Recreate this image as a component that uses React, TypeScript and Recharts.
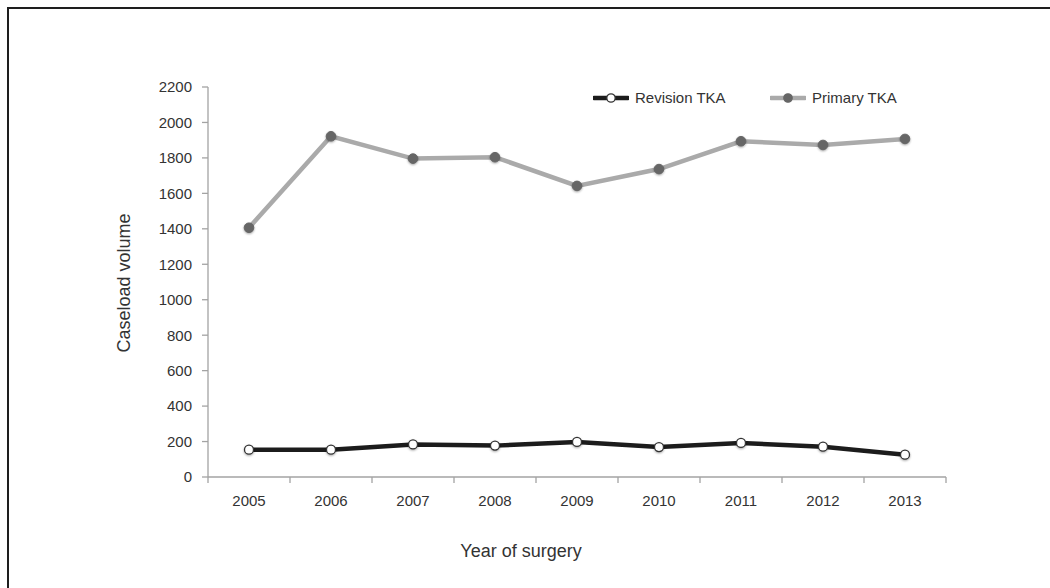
import React from 'react';
import { LineChart, Line, XAxis, YAxis, Label, Legend } from 'recharts';

const years = ['2005', '2006', '2007', '2008', '2009', '2010', '2011', '2012', '2013'];
const revisionTKA = [154, 154, 184, 177, 198, 169, 192, 171, 126];
const primaryTKA = [1406, 1922, 1796, 1804, 1642, 1737, 1894, 1873, 1907];
const yTicks = [0, 200, 400, 600, 800, 1000, 1200, 1400, 1600, 1800, 2000, 2200];
const seriesNames = ['Revision TKA', 'Primary TKA'];

const data = years.map((year, i) => ({
  pos: i + 0.5,
  year,
  revision: revisionTKA[i],
  primary: primaryTKA[i],
}));
const bandEdges = [...years.map((_, i) => i), years.length];

const FONT = "'Liberation Sans', Arial, Helvetica, sans-serif";
const W = 1050;
const H = 588;
const LEGEND_H = 20;
const MARGIN = { top: 87, right: 104, bottom: 31, left: 0 };
const Y_AXIS_W = 208;
const PLOT_W = W - MARGIN.left - MARGIN.right - Y_AXIS_W;
const HALF_BAND = PLOT_W / years.length / 2;
const AXIS_COLOR = '#a3a3a3';
const TEXT_COLOR = '#333';
const REV_COLOR = '#1c1c1c';
const PRI_COLOR = '#aaaaaa';
const PRI_DOT = '#666';

const XTick = (props: any) => {
  const { x, y, payload } = props;
  const i = payload.value;
  if (i >= years.length) return <g />;
  return (
    <text x={x + HALF_BAND} y={y} dy="0.71em" textAnchor="middle" fill={TEXT_COLOR} fontSize={15} fontFamily={FONT}>
      {years[i]}
    </text>
  );
};

const LegendContent = () => {
  const items = [
    { name: seriesNames[0], line: REV_COLOR, fill: '#fff', stroke: '#333', left: 0 },
    { name: seriesNames[1], line: PRI_COLOR, fill: PRI_DOT, stroke: PRI_DOT, left: 177 },
  ];
  return (
    <div style={{ position: 'relative', width: 320, height: LEGEND_H, fontFamily: FONT, fontSize: 15, color: TEXT_COLOR }}>
      {items.map((it) => (
        <div key={it.name} style={{ position: 'absolute', left: it.left, top: 0, display: 'flex', alignItems: 'center', whiteSpace: 'nowrap' }}>
          <svg width={36} height={14} style={{ marginRight: 6 }}>
            <line x1={1} x2={35} y1={7} y2={7} stroke={it.line} strokeWidth={4.5} strokeLinecap="round" />
            <circle cx={18} cy={7} r={4.2} fill={it.fill} stroke={it.stroke} strokeWidth={1.3} />
          </svg>
          <span>{it.name}</span>
        </div>
      ))}
    </div>
  );
};

export default function App() {
  return (
    <div style={{ position: 'absolute', left: 0, top: 0, width: W, height: H, background: '#fff', overflow: 'hidden' }}>
      <style>{`.recharts-line-dots circle { filter: drop-shadow(0px 1px 1.2px rgba(0,0,0,0.35)); }`}</style>
      <div style={{ position: 'absolute', left: 7, top: 7, width: W - 7, height: H - 7, borderTop: '2px solid #1e1e1e', borderLeft: '2px solid #1e1e1e', boxSizing: 'border-box' }} />
      <div style={{ position: 'absolute', left: 0, top: 0 }}>
        <LineChart width={W} height={H} data={data} margin={MARGIN}>
          <XAxis
            dataKey="pos"
            type="number"
            domain={[0, years.length]}
            ticks={bandEdges}
            interval={0}
            height={80 - LEGEND_H}
            tickSize={6}
            tickMargin={12}
            axisLine={{ stroke: AXIS_COLOR, strokeWidth: 1.3 }}
            tickLine={{ stroke: AXIS_COLOR, strokeWidth: 1.3 }}
            tick={<XTick />}
          >
            <Label
              content={() => (
                <text x={521} y={551} textAnchor="middle" dominantBaseline="central" fill={TEXT_COLOR} fontSize={18} fontFamily={FONT}>
                  Year of surgery
                </text>
              )}
            />
          </XAxis>
          <YAxis
            type="number"
            domain={[0, 2200]}
            ticks={yTicks}
            interval={0}
            width={Y_AXIS_W}
            tickSize={6}
            tickMargin={10}
            axisLine={{ stroke: AXIS_COLOR, strokeWidth: 1.3 }}
            tickLine={{ stroke: AXIS_COLOR, strokeWidth: 1.3 }}
            tick={{ fill: TEXT_COLOR, fontSize: 15, fontFamily: FONT }}
          >
            <Label
              content={() => (
                <text x={124} y={283} transform="rotate(-90 124 283)" textAnchor="middle" dominantBaseline="central" fill={TEXT_COLOR} fontSize={18} fontFamily={FONT}>
                  Caseload volume
                </text>
              )}
            />
          </YAxis>
          <Legend content={<LegendContent />} wrapperStyle={{ position: 'absolute', left: 593, top: 89, width: 320, height: LEGEND_H }} />
          <Line
            dataKey="revision"
            name={seriesNames[0]}
            stroke={REV_COLOR}
            strokeWidth={4.5}
            dot={{ r: 4.5, fill: '#fff', stroke: '#333', strokeWidth: 1.3 }}
            isAnimationActive={false}
          />
          <Line
            dataKey="primary"
            name={seriesNames[1]}
            stroke={PRI_COLOR}
            strokeWidth={4.5}
            dot={{ r: 4.8, fill: PRI_DOT, stroke: PRI_DOT, strokeWidth: 1 }}
            isAnimationActive={false}
          />
        </LineChart>
      </div>
    </div>
  );
}
